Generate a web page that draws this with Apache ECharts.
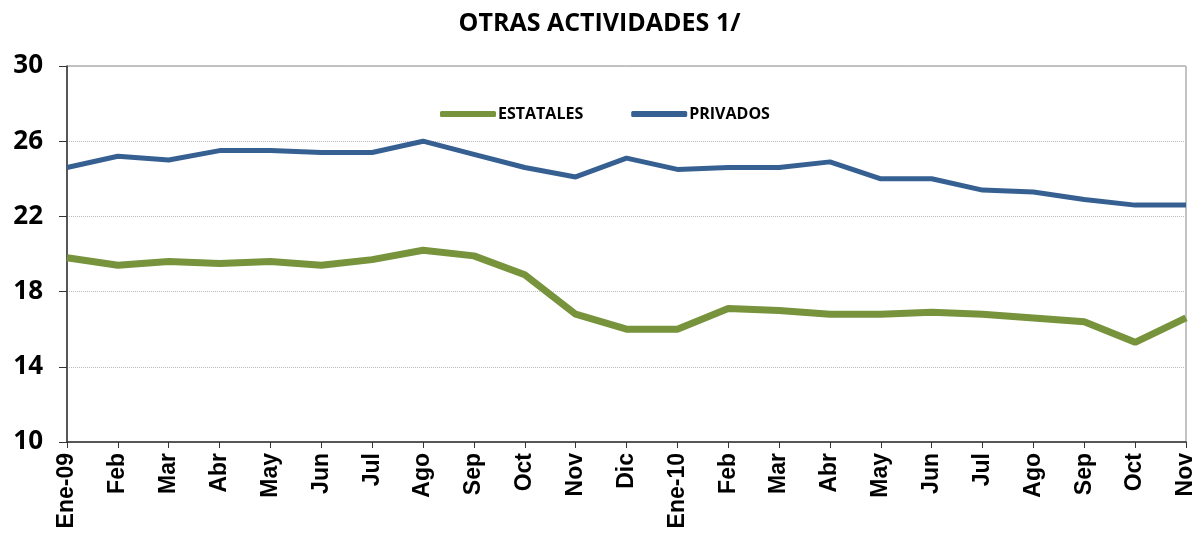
<!DOCTYPE html>
<html>
<head>
<meta charset="utf-8">
<script src="https://cdn.jsdelivr.net/npm/echarts@6/dist/echarts.min.js"></script>
<style>
html,body{margin:0;padding:0;background:#fff;}
#chart{width:1199px;height:537px;}
</style>
</head>
<body>
<div id="chart"></div>
<script>
// Months, Jan 2009 – Nov 2010
const months = ['Ene-09','Feb','Mar','Abr','May','Jun','Jul','Ago','Sep','Oct','Nov','Dic',
                'Ene-10','Feb','Mar','Abr','May','Jun','Jul','Ago','Sep','Oct','Nov'];
const estatales = [19.8,19.4,19.6,19.5,19.6,19.4,19.7,20.2,19.9,18.9,16.8,16.0,
                   16.0,17.1,17.0,16.8,16.8,16.9,16.8,16.6,16.4,15.3,16.6];
const privados = [24.6,25.2,25.0,25.5,25.5,25.4,25.4,26.0,25.3,24.6,24.1,25.1,
                  24.5,24.6,24.6,24.9,24.0,24.0,23.4,23.3,22.9,22.6,22.6];
const yTicks = [10,14,18,22,26,30];

const chart = echarts.init(document.getElementById('chart'));
chart.setOption({
  animation: false,
  title: {
    text: 'OTRAS ACTIVIDADES 1/',
    left: 'center', top: 6,
    textStyle: {fontFamily: 'Open Sans', fontWeight: 'bold', fontSize: 25, color: '#000'}
  },
  legend: {
    top: 101, left: 435,
    itemWidth: 56, itemHeight: 6, itemGap: 48,
    icon: 'roundRect',
    textStyle: {fontFamily: 'Open Sans', fontWeight: 'bold', fontSize: 16, color: '#000', padding: [0,0,0,-3]},
    data: ['ESTATALES', 'PRIVADOS']
  },
  grid: {left: 67, right: 13, top: 66, bottom: 95, show: true, borderColor: '#888', borderWidth: 1},
  xAxis: {
    type: 'category', data: months, boundaryGap: false,
    axisLine: {lineStyle: {color: '#333', width: 1.5}},
    axisTick: {show: true, inside: false, length: 6, lineStyle: {color: '#333'}},
    axisLabel: {
      interval: 0, rotate: 90, margin: 11,
      fontFamily: 'Liberation Sans', fontWeight: 'bold', fontSize: 23, color: '#000'
    },
    splitLine: {show: false}
  },
  yAxis: {
    type: 'value', min: yTicks[0], max: yTicks[yTicks.length-1], interval: 4,
    axisLine: {show: true, lineStyle: {color: '#333', width: 1.5}},
    axisTick: {show: true, length: 8, lineStyle: {color: '#333'}},
    axisLabel: {margin: 24, fontFamily: 'Open Sans', fontWeight: 'bold', fontSize: 26, color: '#000'},
    splitLine: {show: true, lineStyle: {color: '#bbb', type: 'dotted', width: 1}}
  },
  series: [
    {name: 'ESTATALES', type: 'line', data: estatales, symbol: 'none',
     lineStyle: {color: '#77933C', width: 7}, itemStyle: {color: '#77933C'}},
    {name: 'PRIVADOS', type: 'line', data: privados, symbol: 'none',
     lineStyle: {color: '#376092', width: 5}, itemStyle: {color: '#376092'}}
  ]
});
</script>
</body>
</html>
